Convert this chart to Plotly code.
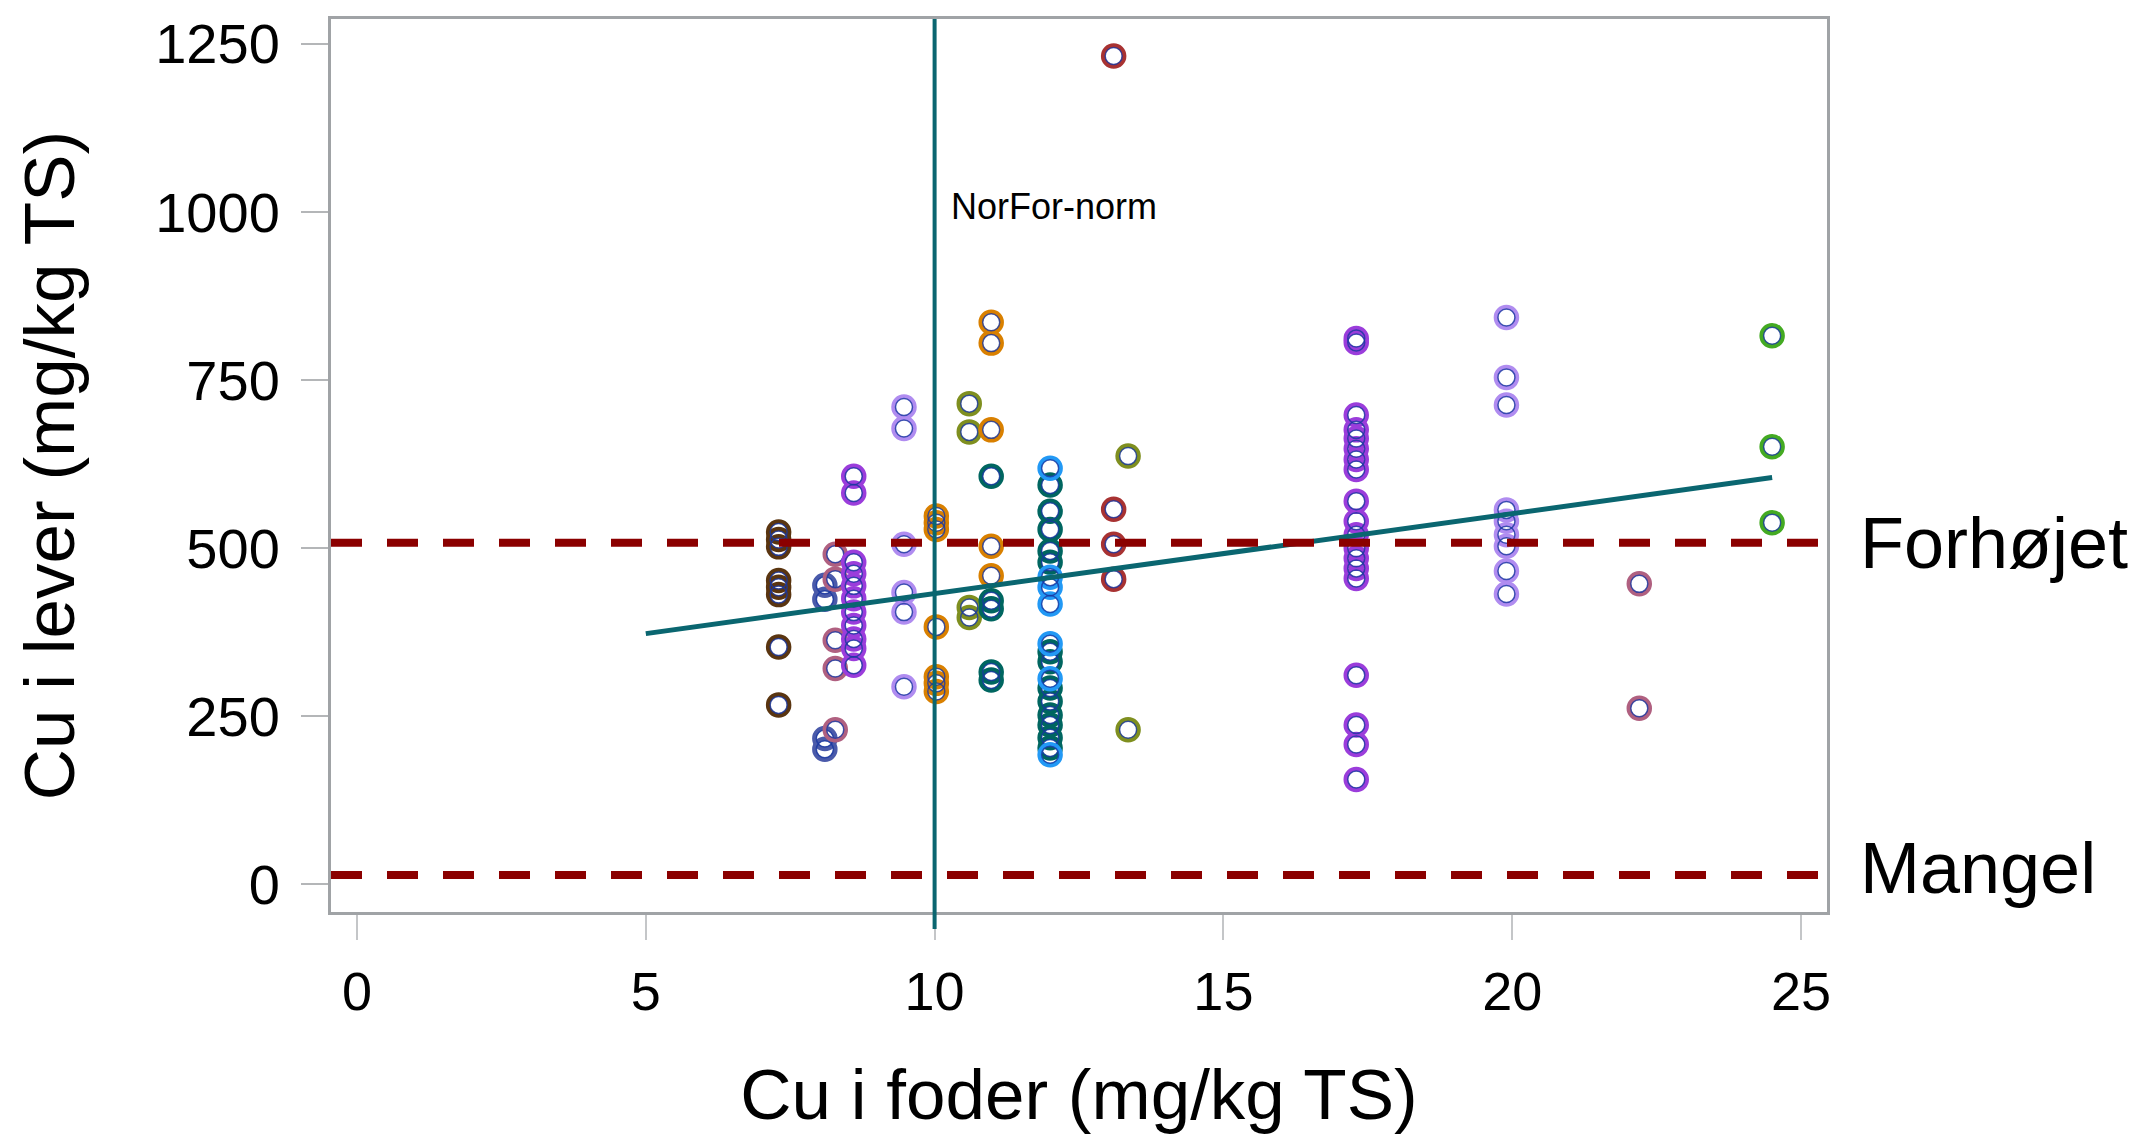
import plotly.graph_objects as go

# ---- data ----
brown_x = 7.3
brown_y = [524, 513, 502, 452, 442, 431, 353, 267]
slate_x = 8.1
slate_y = [445, 424, 217, 201]
mauve8_x = 8.28
mauve8_y = [491, 454, 363, 321, 230]
purple8_x = 8.6
purple8_y = [607, 582, 479, 462, 444, 425, 405, 385, 365, 351, 326]
lpurple9_x = 9.47
lpurple9_y = [710, 678, 506, 434, 405, 294]
orange10_x = 10.03
orange10_y = [548, 538, 528, 383, 309, 299, 287]
olive10_x = 10.6
olive10_y = [715, 673, 412, 397]
orange11_x = 10.98
orange11_y = [836, 805, 676, 503, 459]
teal11_x = 10.98
teal11_y = [607, 422, 410, 316, 304]
teal12_x = 12.0
teal12_y = [594, 555, 528, 496, 479, 346, 331, 292, 272, 252, 237, 218, 203]
blue12_x = 12.0
blue12_y = [619, 457, 442, 417, 358, 306, 193]
red13_x = 13.1
red13_y = [1232, 558, 506, 454]
olive13_x = 13.35
olive13_y = [637, 230]
purple17_x = 17.3
purple17_y = [812, 806, 698, 676, 663, 648, 632, 617, 570, 540, 520, 500, 485,
              470, 455, 311, 237, 208, 156]
lpurple20_x = 19.9
lpurple20_y = [843, 754, 713, 557, 540, 520, 503, 466, 432]
mauve22_x = 22.2
mauve22_y = [447, 262]
green24_x = 24.5
green24_y = [816, 651, 538]

fit_x = [5.0, 24.5]
fit_y = [373, 605]

norm_x = 10
forhojet_y = 508
mangel_y = 14

x_ticks = [0, 5, 10, 15, 20, 25]
y_ticks = [0, 250, 500, 750, 1000, 1250]

groups = [
    (brown_x, brown_y, "#5a3510"),
    (slate_x, slate_y, "#4a5aaa"),
    (mauve8_x, mauve8_y, "#b06080"),
    (purple8_x, purple8_y, "#9b3ddb"),
    (lpurple9_x, lpurple9_y, "#b08cf0"),
    (orange10_x, orange10_y, "#d98000"),
    (olive10_x, olive10_y, "#7f8f1f"),
    (orange11_x, orange11_y, "#d98000"),
    (teal11_x, teal11_y, "#006660"),
    (teal12_x, teal12_y, "#006660"),
    (blue12_x, blue12_y, "#2299f5"),
    (red13_x, red13_y, "#a83232"),
    (olive13_x, olive13_y, "#7f8f1f"),
    (purple17_x, purple17_y, "#9b3ddb"),
    (lpurple20_x, lpurple20_y, "#b08cf0"),
    (mauve22_x, mauve22_y, "#b06080"),
    (green24_x, green24_y, "#44aa22"),
]

FONT = "Liberation Sans, Arial, sans-serif"

fig = go.Figure()
for gx, gy, col in groups:
    xs = [gx] * len(gy)
    fig.add_trace(go.Scatter(
        x=xs, y=gy, mode="markers", showlegend=False, hoverinfo="x+y",
        marker=dict(symbol="circle-open", size=21, color=col,
                    line=dict(color=col, width=4.5)),
    ))
    fig.add_trace(go.Scatter(
        x=xs, y=gy, mode="markers", showlegend=False, hoverinfo="skip",
        marker=dict(symbol="circle-open", size=17, color="rgba(25,55,160,0.8)",
                    line=dict(color="rgba(25,55,160,0.8)", width=1.5)),
    ))

fig.add_trace(go.Scatter(
    x=fit_x, y=fit_y, mode="lines", showlegend=False,
    line=dict(color="#0a6670", width=5),
))

# threshold lines
for yv in (forhojet_y, mangel_y):
    fig.add_shape(type="line", xref="paper", yref="y", x0=0, x1=1, y0=yv, y1=yv,
                  line=dict(color="#8b0000", width=8, dash="31px,25px"), layer="above")

# NorFor norm vertical line
fig.add_shape(type="line", xref="x", yref="paper", x0=norm_x, x1=norm_x,
              y0=-0.019, y1=1, line=dict(color="#0a6670", width=4), layer="above")

fig.add_annotation(x=10.25, y=1008, xref="x", yref="y", text="NorFor-norm",
                   showarrow=False, xanchor="left", yanchor="middle",
                   font=dict(family=FONT, size=36, color="black"))
fig.add_annotation(x=1.021, y=forhojet_y, xref="paper", yref="y", text="Forhøjet",
                   showarrow=False, xanchor="left", yanchor="middle",
                   font=dict(family=FONT, size=72, color="black"))
fig.add_annotation(x=1.021, y=mangel_y + 10, xref="paper", yref="y", text="Mangel",
                   showarrow=False, xanchor="left", yanchor="middle",
                   font=dict(family=FONT, size=72, color="black"))

fig.update_layout(
    width=2143, height=1135,
    margin=dict(l=323, r=324, t=5, b=231, pad=0),
    paper_bgcolor="white", plot_bgcolor="white",
    font=dict(family=FONT, color="black"),
)
fig.update_xaxes(
    range=[-0.45, 25.45], tickvals=x_ticks, ticktext=[str(v) for v in x_ticks],
    showgrid=False, zeroline=False, showline=True, mirror=True,
    linecolor="#a0a3a6", linewidth=3,
    ticks="outside", ticklen=25, tickwidth=2, tickcolor="#c4c6c8",
    ticklabelstandoff=5,
    tickfont=dict(family=FONT, size=54, color="black"),
    title=dict(text="Cu i foder (mg/kg TS)", standoff=50,
               font=dict(family=FONT, size=71, color="black")),
)
fig.update_yaxes(
    range=[-41, 1287], tickvals=y_ticks, ticktext=[str(v) for v in y_ticks],
    showgrid=False, zeroline=False, showline=True, mirror=True,
    linecolor="#a0a3a6", linewidth=3,
    ticks="outside", ticklen=27, tickwidth=2, tickcolor="#b4b6b8",
    ticklabelstandoff=10,
    tickfont=dict(family=FONT, size=56, color="black"),
    title=dict(text="Cu i lever (mg/kg TS)", standoff=58,
               font=dict(family=FONT, size=71, color="black")),
)

fig.write_html("out.html")
